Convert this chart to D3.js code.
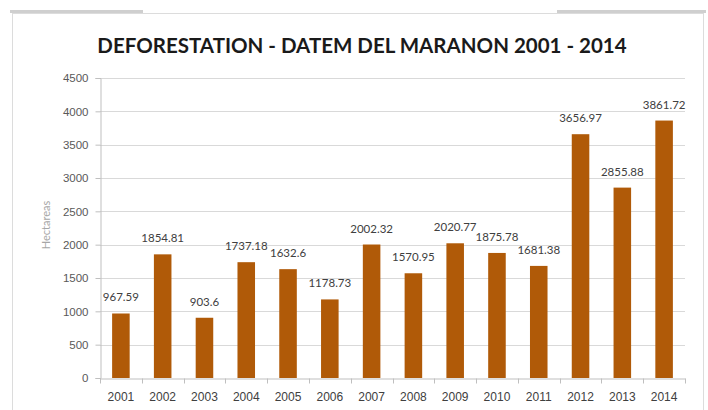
<!DOCTYPE html>
<html>
<head>
<meta charset="utf-8">
<script src="https://cdn.jsdelivr.net/npm/d3@7"></script>
<style>
  body { margin: 0; background: #fff; }
  svg { display: block; font-family: Lato, "Open Sans", sans-serif; }
</style>
</head>
<body>
<svg id="chart"></svg>
<script>
var years = ["2001", "2002", "2003", "2004", "2005", "2006", "2007",
             "2008", "2009", "2010", "2011", "2012", "2013", "2014"];
var hectares = [967.59, 1854.81, 903.6, 1737.18, 1632.6, 1178.73, 2002.32,
                1570.95, 2020.77, 1875.78, 1681.38, 3656.97, 2855.88, 3861.72];
var yTicks = [0, 500, 1000, 1500, 2000, 2500, 3000, 3500, 4000, 4500];
var title = "DEFORESTATION - DATEM DEL MARANON 2001 - 2014";
var yLabel = "Hectareas";

var width = 708, height = 410;
var margin = {top: 78, right: 23, bottom: 32, left: 100};

var svg = d3.select("#chart")
  .attr("width", width)
  .attr("height", height);

// frame around the chart
svg.append("rect")
  .attr("x", 12.5).attr("y", 13.5)
  .attr("width", 691).attr("height", 410)
  .attr("fill", "none")
  .attr("stroke", "#dcdcdc");
svg.append("rect").attr("x", 10).attr("y", 10).attr("width", 133).attr("height", 3).attr("fill", "#cfcfcf");
svg.append("rect").attr("x", 557).attr("y", 10).attr("width", 149).attr("height", 3).attr("fill", "#cfcfcf");

svg.append("text")
  .attr("x", 362).attr("y", 53)
  .attr("text-anchor", "middle")
  .style("font-size", "20.5px")
  .style("font-weight", "bold")
  .attr("fill", "#1a1a1a")
  .text(title);

var innerW = width - margin.left - margin.right,
    innerH = height - margin.top - margin.bottom;

var g = svg.append("g").attr("transform", "translate(" + margin.left + "," + margin.top + ")");

var x = d3.scaleBand()
  .domain(years)
  .range([0, innerW])
  .paddingInner(0.58)
  .paddingOuter(0.29);

var y = d3.scaleLinear()
  .domain([0, 4500])
  .range([innerH, 0]);

// gridlines
g.append("g")
  .selectAll("line")
  .data(yTicks.slice(1))
  .enter().append("line")
    .attr("x1", 0).attr("x2", innerW)
    .attr("y1", function(d) { return Math.round(y(d)) + 0.5; })
    .attr("y2", function(d) { return Math.round(y(d)) + 0.5; })
    .attr("stroke", "#d9d9d9");

// y axis
var yAxis = g.append("g")
  .attr("transform", "translate(0.5,0)")
  .call(d3.axisLeft(y).tickValues(yTicks).tickFormat(d3.format("d")).tickSize(5).tickPadding(7));
yAxis.select(".domain").attr("stroke", "#bfbfbf");
yAxis.selectAll(".tick line").attr("stroke", "#bfbfbf");
yAxis.selectAll("text")
  .style("font-size", "11.5px")
  .attr("fill", "#595959");

// x axis
var xAxis = g.append("g")
  .attr("transform", "translate(0," + (innerH + 0.5) + ")")
  .call(d3.axisBottom(x).tickSize(0).tickPadding(14));
xAxis.select(".domain").attr("stroke", "#bfbfbf");
xAxis.selectAll("text")
  .style("font-size", "12px")
  .attr("fill", "#404040");

// tick marks between categories
xAxis.append("g")
  .selectAll("line")
  .data(d3.range(years.length + 1))
  .enter().append("line")
    .attr("x1", function(i) { return Math.round(i * innerW / years.length) + 0.5; })
    .attr("x2", function(i) { return Math.round(i * innerW / years.length) + 0.5; })
    .attr("y1", 0).attr("y2", 5)
    .attr("stroke", "#bfbfbf");

// bars
g.append("g")
  .selectAll("rect")
  .data(hectares)
  .enter().append("rect")
    .attr("x", function(d, i) { return x(years[i]); })
    .attr("y", function(d) { return y(d); })
    .attr("width", x.bandwidth())
    .attr("height", function(d) { return innerH - y(d); })
    .attr("fill", "#b05a08");

// value labels
g.append("g")
  .selectAll("text")
  .data(hectares)
  .enter().append("text")
    .attr("x", function(d, i) { return x(years[i]) + x.bandwidth() / 2; })
    .attr("y", function(d) { return y(d) - 12; })
    .attr("text-anchor", "middle")
    .style("font-size", "11.5px")
    .attr("fill", "#404040")
    .text(function(d) { return d; });

// y axis title
svg.append("text")
  .attr("transform", "translate(50,225) rotate(-90)")
  .attr("text-anchor", "middle")
  .style("font-size", "11px")
  .attr("fill", "#a6a6a6")
  .text(yLabel);
</script>
</body>
</html>
